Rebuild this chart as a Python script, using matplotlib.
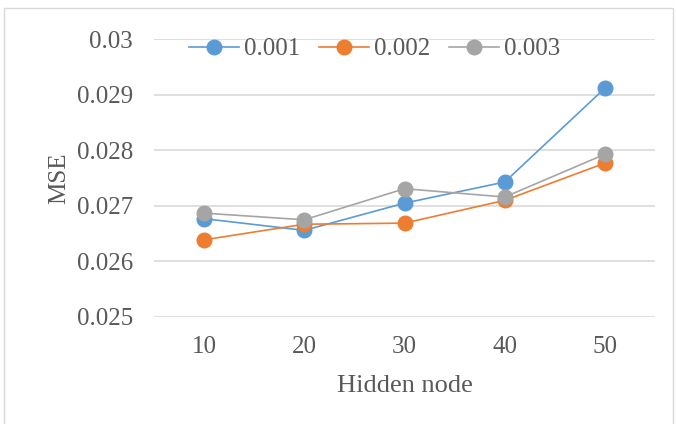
import matplotlib
matplotlib.use('Agg')
import matplotlib.pyplot as plt
from matplotlib.patches import Rectangle

# 隱藏節點數與三種學習率的 MSE
hidden_nodes = ['10', '20', '30', '40', '50']
mse_001 = [0.02677, 0.02656, 0.02705, 0.02743, 0.02912]
mse_002 = [0.02639, 0.02667, 0.02669, 0.02710, 0.02777]
mse_003 = [0.02687, 0.02675, 0.02731, 0.02716, 0.02793]
series_labels = ['0.001', '0.002', '0.003']
y_ticks = [0.025, 0.026, 0.027, 0.028, 0.029, 0.03]
y_tick_labels = ['0.025', '0.026', '0.027', '0.028', '0.029', '0.03']

colors = ['#5B9BD5', '#ED7D31', '#A5A5A5']
text_color = '#595959'

plt.rcParams['font.family'] = ['Liberation Serif', 'DejaVu Serif']

fig = plt.figure(figsize=(6.77, 4.24), dpi=100)
# 外框
fig.patches.append(Rectangle((0.006, -0.01), 0.988, 0.99, transform=fig.transFigure,
                             fill=False, edgecolor='#d9d9d9', linewidth=1))

ax = fig.add_axes([0.2275, 0.2524, 0.74, 0.6549])
x = list(range(len(hidden_nodes)))
for values, label, color in zip([mse_001, mse_002, mse_003], series_labels, colors):
    ax.plot(x, values, color=color, linewidth=1.2, marker='o', markersize=10.5,
            label=label, zorder=3)

ax.set_xlim(-0.5, len(hidden_nodes) - 0.5)
ax.set_ylim(0.025, 0.03)
ax.set_xticks(x)
ax.set_xticklabels(hidden_nodes)
ax.set_yticks(y_ticks)
ax.set_yticklabels(y_tick_labels)
ax.tick_params(length=0, labelsize=18, labelcolor=text_color)
ax.tick_params(axis='x', pad=14)
ax.tick_params(axis='y', pad=15)
ax.grid(axis='y', color='#d9d9d9', linewidth=1.2)
ax.set_axisbelow(True)
for s in ax.spines.values():
    s.set_visible(False)

ax.set_xlabel('Hidden node', fontsize=19, color=text_color, labelpad=12)
ax.set_ylabel('MSE', fontsize=18, color=text_color, labelpad=5)

fig.legend(loc='center', bbox_to_anchor=(375 / 677, 1 - 49 / 424), ncol=3,
           frameon=False, fontsize=18, labelcolor=text_color, handlelength=2.0,
           handletextpad=0.2, columnspacing=0.75, borderaxespad=0, borderpad=0)

fig.savefig('out.png', dpi=100)
